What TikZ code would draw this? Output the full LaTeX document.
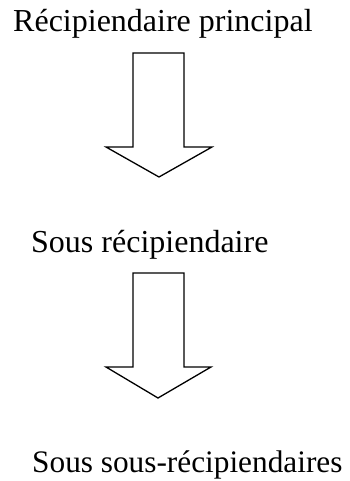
\documentclass[tikz,border=0pt]{standalone}
\usepackage{fontspec}
\setmainfont{Liberation Serif}
\begin{document}
\begin{tikzpicture}[x=1pt,y=-1pt,
  label/.style={anchor=base west,inner sep=0pt,font=\fontsize{32}{38}\selectfont},
  blockarrow/.style={draw=black,fill=white,line width=1.3pt,line join=miter}]
\useasboundingbox (0,0) rectangle (349,481);
\node[label] (t1) at (13,32) {Récipiendaire principal};
\node[label] (t2) at (31,252) {Sous récipiendaire};
\node[label,font=\fontsize{31.3}{38}\selectfont] (t3) at (32,472) {Sous sous-récipiendaires};
\draw[blockarrow] (133,53) -- (184,53) -- (184,147) -- (212,147) -- (159,177) -- (106,147) -- (133,147) -- cycle;
\draw[blockarrow] (133,273) -- (184,273) -- (184,367) -- (211,367) -- (158,398) -- (106,367) -- (133,367) -- cycle;
\end{tikzpicture}
\end{document}
